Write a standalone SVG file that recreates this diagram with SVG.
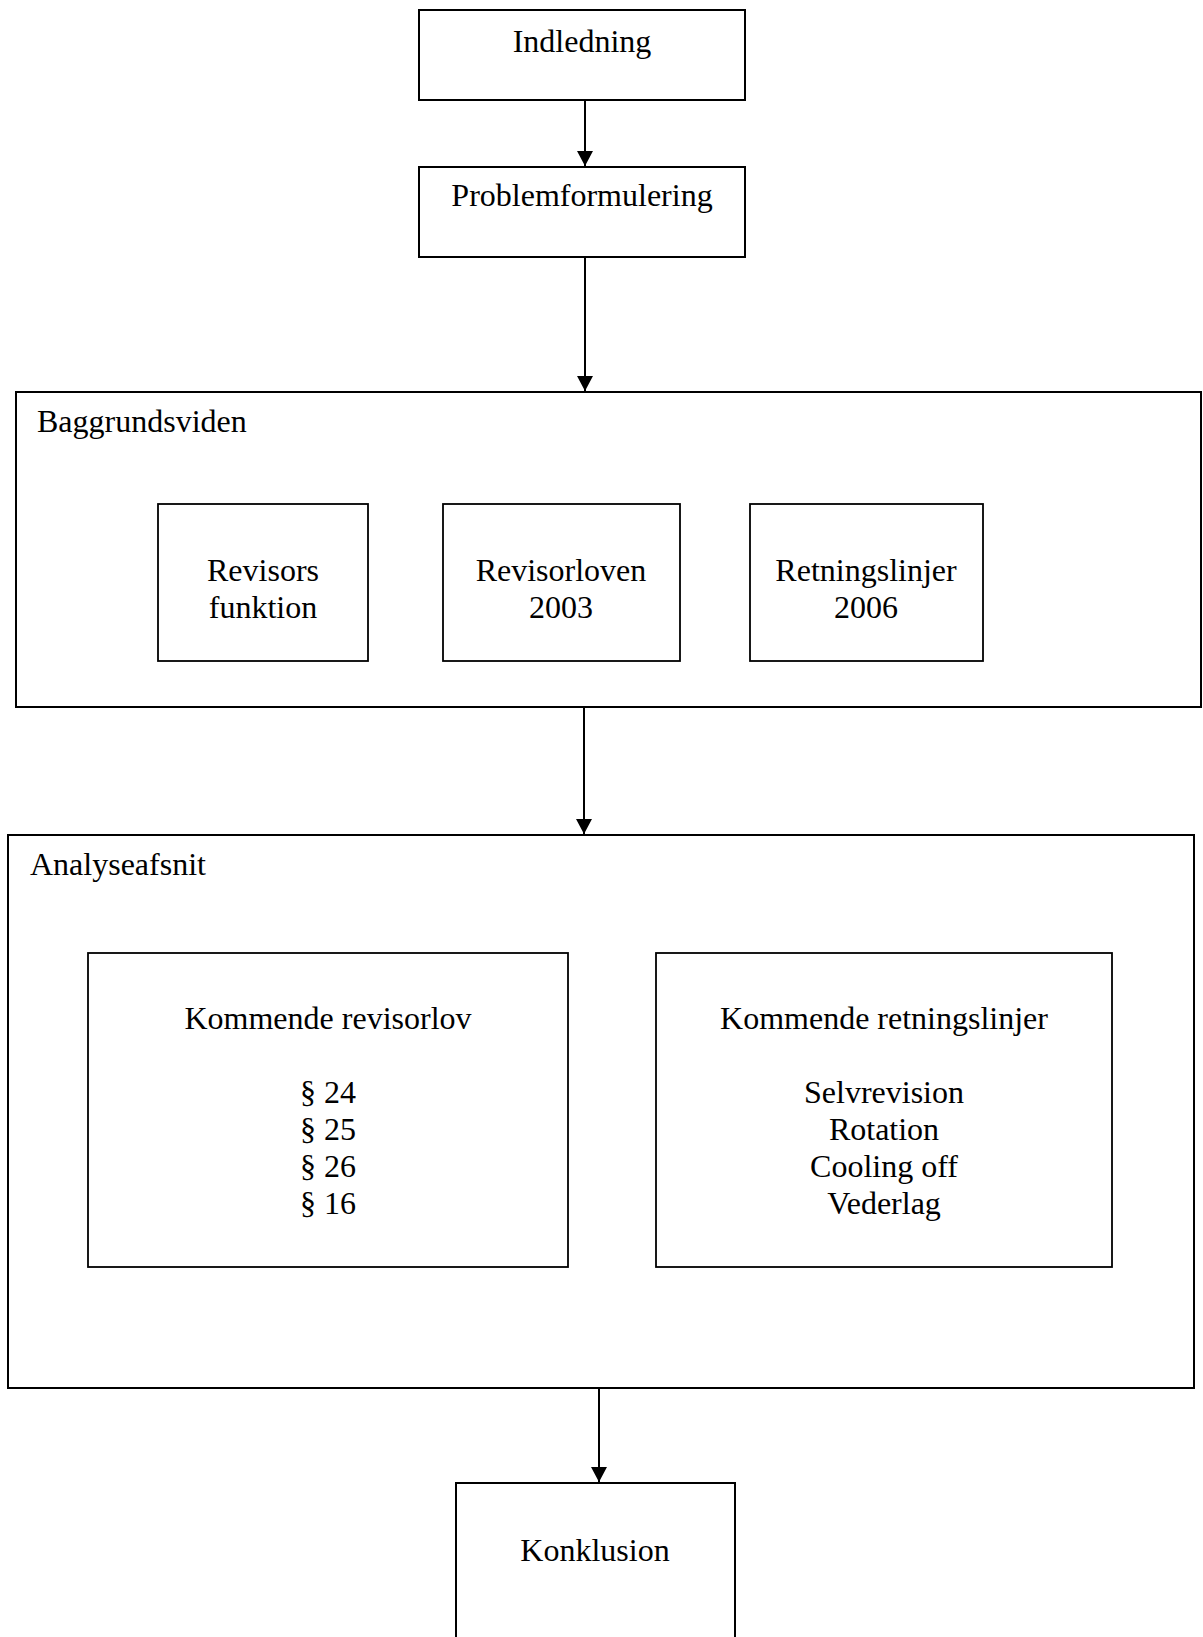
<svg xmlns="http://www.w3.org/2000/svg" width="1203" height="1637" viewBox="0 0 1203 1637">
  <style>
    .box { fill: #ffffff; stroke: #000000; stroke-width: 2; }
    .inner { fill: #ffffff; stroke: #000000; stroke-width: 1.8; }
    .t { font-family: "Liberation Serif", "Times New Roman", serif; font-size: 32px; fill: #000000; }
    .c { text-anchor: middle; }
    .conn { stroke: #000000; stroke-width: 2; fill: none; marker-end: url(#arrow); }
  </style>
  <defs>
    <marker id="arrow" markerUnits="userSpaceOnUse" markerWidth="16" markerHeight="16" refX="15" refY="8" orient="auto">
      <path d="M0,0 L15,8 L0,16 Z" fill="#000000"/>
    </marker>
  </defs>
  <rect x="0" y="0" width="1203" height="1637" fill="#ffffff"/>

  <g id="indledning">
    <rect class="box" x="419" y="10" width="326" height="90"/>
    <text class="t c" x="582" y="52">Indledning</text>
  </g>
  <g id="problemformulering">
    <rect class="box" x="419" y="167" width="326" height="90"/>
    <text class="t c" x="582" y="206">Problemformulering</text>
  </g>
  <g id="baggrundsviden">
    <rect class="box" x="16" y="392" width="1185" height="315"/>
    <text class="t" x="37" y="432">Baggrundsviden</text>
  </g>
  <g id="revisors-funktion">
    <rect class="inner" x="158" y="504" width="210" height="157"/>
    <text class="t c" x="263" y="581">Revisors</text>
    <text class="t c" x="263" y="618">funktion</text>
  </g>
  <g id="revisorloven-2003">
    <rect class="inner" x="443" y="504" width="237" height="157"/>
    <text class="t c" x="561" y="581">Revisorloven</text>
    <text class="t c" x="561" y="618">2003</text>
  </g>
  <g id="retningslinjer-2006">
    <rect class="inner" x="750" y="504" width="233" height="157"/>
    <text class="t c" x="866" y="581">Retningslinjer</text>
    <text class="t c" x="866" y="618">2006</text>
  </g>
  <g id="analyseafsnit">
    <rect class="box" x="8" y="835" width="1186" height="553"/>
    <text class="t" x="30" y="875">Analyseafsnit</text>
  </g>
  <g id="kommende-revisorlov">
    <rect class="inner" x="88" y="953" width="480" height="314"/>
    <text class="t c" x="328" y="1029">Kommende revisorlov</text>
    <text class="t c" x="328" y="1103">§ 24</text>
    <text class="t c" x="328" y="1140">§ 25</text>
    <text class="t c" x="328" y="1177">§ 26</text>
    <text class="t c" x="328" y="1214">§ 16</text>
  </g>
  <g id="kommende-retningslinjer">
    <rect class="inner" x="656" y="953" width="456" height="314"/>
    <text class="t c" x="884" y="1029">Kommende retningslinjer</text>
    <text class="t c" x="884" y="1103">Selvrevision</text>
    <text class="t c" x="884" y="1140">Rotation</text>
    <text class="t c" x="884" y="1177">Cooling off</text>
    <text class="t c" x="884" y="1214">Vederlag</text>
  </g>
  <g id="konklusion">
    <rect class="box" x="456" y="1483" width="279" height="170"/>
    <text class="t c" x="595" y="1561">Konklusion</text>
  </g>

  <g id="connectors">
    <line class="conn" x1="585" y1="100" x2="585" y2="166"/>
    <line class="conn" x1="585" y1="257" x2="585" y2="391"/>
    <line class="conn" x1="584" y1="707" x2="584" y2="834"/>
    <line class="conn" x1="599" y1="1388" x2="599" y2="1482"/>
  </g>
</svg>
